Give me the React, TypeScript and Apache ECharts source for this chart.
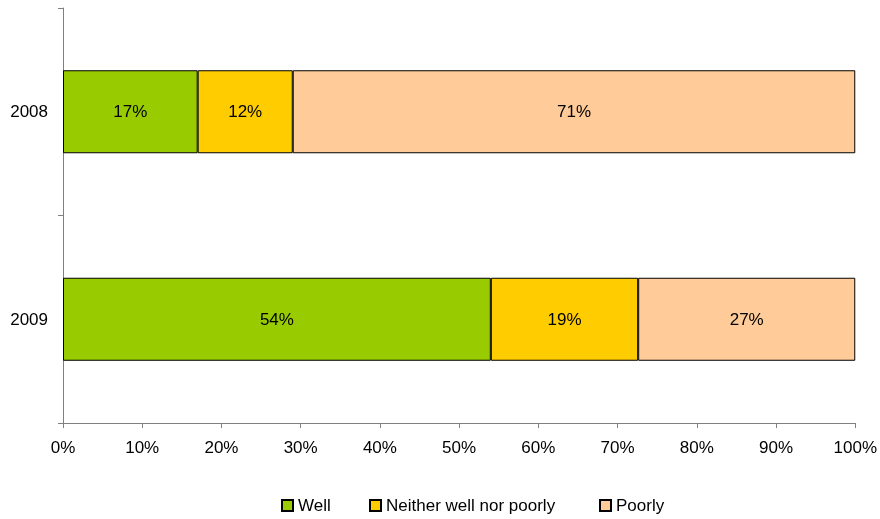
import React, { useEffect, useRef } from "react";
import * as echarts from "echarts";

const categories = ["2008", "2009"];
const seriesNames = ["Well", "Neither well nor poorly", "Poorly"];
const wellValues = [17, 54];
const neitherValues = [12, 18.6];
const poorlyValues = [71, 27.4];
const xTicks = [0, 10, 20, 30, 40, 50, 60, 70, 80, 90, 100];
const colors = ["#99CC00", "#FFCC00", "#FFCC99"];
const legendLefts = [281, 369, 599];

export default function App() {
  const ref = useRef<HTMLDivElement>(null);
  useEffect(() => {
    if (!ref.current) return;
    const chart = echarts.init(ref.current, null, { renderer: "svg" });
    const font = "Arial, 'Liberation Sans', sans-serif";
    const fs = 17;
    const data = [wellValues, neitherValues, poorlyValues];
    chart.setOption({
      animation: false,
      textStyle: { fontFamily: font },
      grid: { left: 63, right: 24, top: 8, bottom: 96, containLabel: false },
      legend: seriesNames.map((name, i) => ({
        left: legendLefts[i],
        top: 497,
        padding: 0,
        itemWidth: 11,
        itemHeight: 11,
        icon: "rect",
        textStyle: { fontFamily: font, fontSize: fs, color: "#000" },
        data: [name],
      })),
      xAxis: {
        type: "value",
        min: xTicks[0],
        max: xTicks[xTicks.length - 1],
        interval: 10,
        axisLine: { show: true, lineStyle: { color: "#808080", width: 1 } },
        axisTick: { show: true, length: 5, lineStyle: { color: "#808080" } },
        splitLine: { show: false },
        axisLabel: {
          color: "#000",
          fontSize: fs,
          fontFamily: font,
          margin: 16,
          formatter: (v: number) => v + "%",
        },
      },
      yAxis: {
        type: "category",
        inverse: true,
        data: categories,
        axisLine: { show: true, lineStyle: { color: "#808080", width: 1 } },
        axisTick: { show: true, length: 5, alignWithLabel: false, lineStyle: { color: "#808080" } },
        axisLabel: { color: "#000", fontSize: fs, fontFamily: font, margin: 15 },
      },
      series: seriesNames.map((name, i) => ({
        name,
        type: "bar",
        stack: "total",
        barWidth: "40%",
        data: data[i],
        itemStyle: { color: colors[i], borderColor: "#000", borderWidth: 1 },
        label: {
          show: true,
          position: "inside",
          color: "#000",
          fontSize: fs,
          fontFamily: font,
          formatter: (p: any) => Math.round(p.value) + "%",
        },
      })),
    });
    return () => chart.dispose();
  }, []);
  return (
    <div
      ref={ref}
      style={{ position: "fixed", left: 0, top: 0, width: 880, height: 519 }}
    />
  );
}
